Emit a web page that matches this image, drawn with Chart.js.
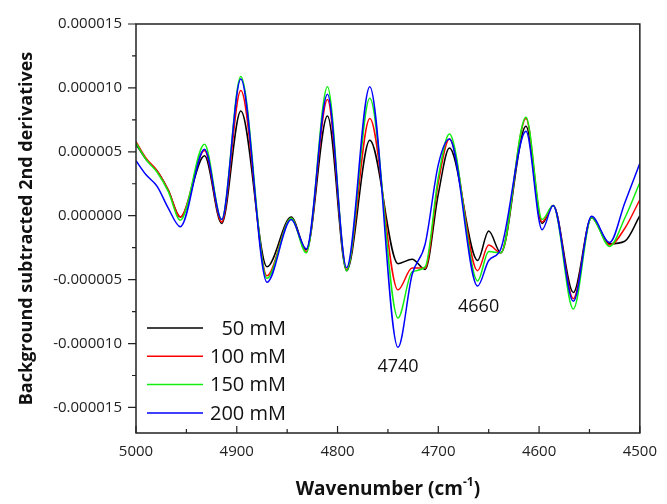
<!DOCTYPE html>
<html>
<head>
<meta charset="utf-8">
<script src="https://cdn.jsdelivr.net/npm/chart.js@4.4.1/dist/chart.umd.min.js"></script>
<style>
	html, body { margin: 0; padding: 0; background: #fff; }
	#wrap { width: 667px; height: 504px; position: relative; }
</style>
</head>
<body>
<div id="wrap"><canvas id="derivChart"></canvas></div>
<script>
// wavenumber (cm-1) sample points, values in units of 1e-6
const wavenumbers = [5000, 4990, 4979, 4968, 4956, 4932, 4915, 4896, 4870, 4846, 4831, 4810, 4791, 4768, 4740, 4726, 4713, 4700, 4689, 4661, 4650, 4638, 4613, 4597, 4586, 4566, 4548, 4530, 4515, 4500];
const conc50 = [5.6, 4.4, 3.5, 2.0, -0.1, 4.7, -0.6, 8.2, -4.0, -0.1, -2.65, 7.8, -4.3, 5.9, -3.75, -3.4, -4.2, 1.7, 5.3, -3.5, -1.2, -2.9, 7.0, -0.6, 0.8, -6.0, -0.15, -2.2, -2.0, 0.0];
const conc100 = [5.8, 4.5, 3.5, 2.0, -0.1, 5.1, -0.5, 9.8, -4.7, -0.2, -2.8, 9.1, -4.2, 7.6, -5.8, -4.1, -4.1, 2.6, 6.0, -4.3, -2.3, -2.9, 7.6, -0.5, 0.8, -6.5, -0.15, -2.3, -1.0, 1.25];
const conc150 = [5.7, 4.4, 3.4, 1.9, -0.35, 5.6, -0.3, 10.9, -4.9, -0.2, -2.9, 10.1, -4.3, 9.2, -8.0, -4.4, -4.0, 3.0, 6.4, -5.1, -2.8, -2.9, 7.7, -0.3, 0.8, -7.3, -0.15, -2.4, -0.2, 2.6];
const conc200 = [4.3, 3.2, 2.3, 0.6, -0.86, 5.2, -0.3, 10.7, -5.2, -0.3, -2.6, 9.5, -4.06, 10.1, -10.3, -4.6, -2.2, 4.0, 6.0, -5.5, -3.5, -2.6, 6.6, -1.1, 0.8, -6.7, -0.05, -2.1, 1.0, 4.1];

const seriesNames = ['50 mM', '100 mM', '150 mM', '200 mM'];
const seriesColors = ['#000000', '#ff0000', '#11ee11', '#0000ff'];

const xTicks = [5000, 4900, 4800, 4700, 4600, 4500];
const xMinorTicks = [4950, 4850, 4750, 4650, 4550];
const yTicks = [-15, -10, -5, 0, 5, 10, 15];
const yMinorTicks = [-12.5, -7.5, -2.5, 2.5, 7.5, 12.5];

// peak labels
const peakLabels = ['4740', '4660'];
const peakLabelX = [4740, 4660];
const peakLabelY = [-11.8, -7.1];

const FONT = "'Open Sans', sans-serif";

const extras = {
	id: 'extras',
	afterDatasetsDraw(chart) {
		const ctx = chart.ctx;
		const area = chart.chartArea;
		const xs = chart.scales.x;
		const ys = chart.scales.y;
		ctx.save();

		// frame
		ctx.strokeStyle = '#222';
		ctx.lineWidth = 1.5;
		ctx.strokeRect(area.left, area.top, area.right - area.left, area.bottom - area.top);

		// y ticks (outside)
		ctx.lineWidth = 1.2;
		ctx.beginPath();
		yTicks.forEach((v) => {
			const y = ys.getPixelForValue(v);
			ctx.moveTo(area.left - 8, y);
			ctx.lineTo(area.left, y);
		});
		yMinorTicks.forEach((v) => {
			const y = ys.getPixelForValue(v);
			ctx.moveTo(area.left - 4, y);
			ctx.lineTo(area.left, y);
		});
		// x ticks (inside)
		xTicks.forEach((v) => {
			const x = xs.getPixelForValue(v);
			ctx.moveTo(x, area.bottom);
			ctx.lineTo(x, area.bottom - 7);
		});
		xMinorTicks.forEach((v) => {
			const x = xs.getPixelForValue(v);
			ctx.moveTo(x, area.bottom);
			ctx.lineTo(x, area.bottom - 4);
		});
		ctx.stroke();

		// peak labels
		ctx.fillStyle = '#111';
		ctx.font = '18px ' + FONT;
		ctx.textAlign = 'center';
		ctx.textBaseline = 'middle';
		peakLabels.forEach((t, i) => {
			ctx.fillText(t, xs.getPixelForValue(peakLabelX[i]), ys.getPixelForValue(peakLabelY[i]));
		});

		// legend
		ctx.font = '20px ' + FONT;
		ctx.textAlign = 'right';
		seriesNames.forEach((name, i) => {
			const y = 328 + i * 28.3;
			ctx.strokeStyle = seriesColors[i];
			ctx.lineWidth = 1.5;
			ctx.beginPath();
			ctx.moveTo(147, y);
			ctx.lineTo(203, y);
			ctx.stroke();
			ctx.fillStyle = '#111';
			ctx.fillText(name, 286, y + 1);
		});

		// axis titles
		ctx.fillStyle = '#111';
		ctx.font = 'bold 18px ' + FONT;
		ctx.textAlign = 'center';
		ctx.save();
		ctx.translate(27, (area.top + area.bottom) / 2);
		ctx.rotate(-Math.PI / 2);
		ctx.fillText('Background subtracted 2nd derivatives', 0, 0);
		ctx.restore();

		const main = 'Wavenumber (cm';
		const sup = '-1';
		const tail = ')';
		ctx.font = 'bold 19px ' + FONT;
		const wMain = ctx.measureText(main).width;
		const wTail = ctx.measureText(tail).width;
		ctx.font = 'bold 12px ' + FONT;
		const wSup = ctx.measureText(sup).width;
		let x = (area.left + area.right) / 2 - (wMain + wSup + wTail) / 2;
		const ty = 490;
		ctx.textAlign = 'left';
		ctx.font = 'bold 19px ' + FONT;
		ctx.fillText(main, x, ty);
		x += wMain;
		ctx.font = 'bold 12px ' + FONT;
		ctx.fillText(sup, x, ty - 7);
		x += wSup;
		ctx.font = 'bold 19px ' + FONT;
		ctx.fillText(tail, x, ty);

		ctx.restore();
	},
};

const allSeries = [conc50, conc100, conc150, conc200];
const datasets = allSeries.map((vals, i) => ({
	label: seriesNames[i],
	data: wavenumbers.map((w, j) => ({ x: w, y: vals[j] })),
	borderColor: seriesColors[i],
	borderWidth: 1.5,
	pointRadius: 0,
	cubicInterpolationMode: 'monotone',
	order: allSeries.length - i,
}));

const ctx = document.getElementById('derivChart').getContext('2d');
new Chart(ctx, {
	type: 'line',
	data: { datasets: datasets },
	options: {
		responsive: true,
		maintainAspectRatio: false,
		animation: false,
		layout: { padding: { top: 24, right: 23, left: 0, bottom: 0 } },
		plugins: {
			legend: { display: false },
			tooltip: { enabled: false },
		},
		scales: {
			x: {
				type: 'linear',
				reverse: true,
				min: 4500,
				max: 5000,
				grid: { display: false, drawTicks: false },
				border: { display: false },
				afterBuildTicks: (s) => { s.ticks = xTicks.map((v) => ({ value: v })); },
				afterFit: (s) => { s.height = 71; },
				ticks: {
					padding: 10,
					color: '#222',
					font: { family: FONT, size: 15 },
					maxRotation: 0,
					callback: (v) => String(v),
				},
			},
			y: {
				min: -17,
				max: 15,
				grid: { display: false, drawTicks: false },
				border: { display: false },
				afterBuildTicks: (s) => { s.ticks = yTicks.map((v) => ({ value: v })); },
				afterFit: (s) => { s.width = 136; },
				ticks: {
					padding: 14,
					color: '#222',
					font: { family: FONT, size: 15 },
					callback: (v) => (v / 1e6).toFixed(6),
				},
			},
		},
	},
	plugins: [extras],
});
</script>
</body>
</html>
